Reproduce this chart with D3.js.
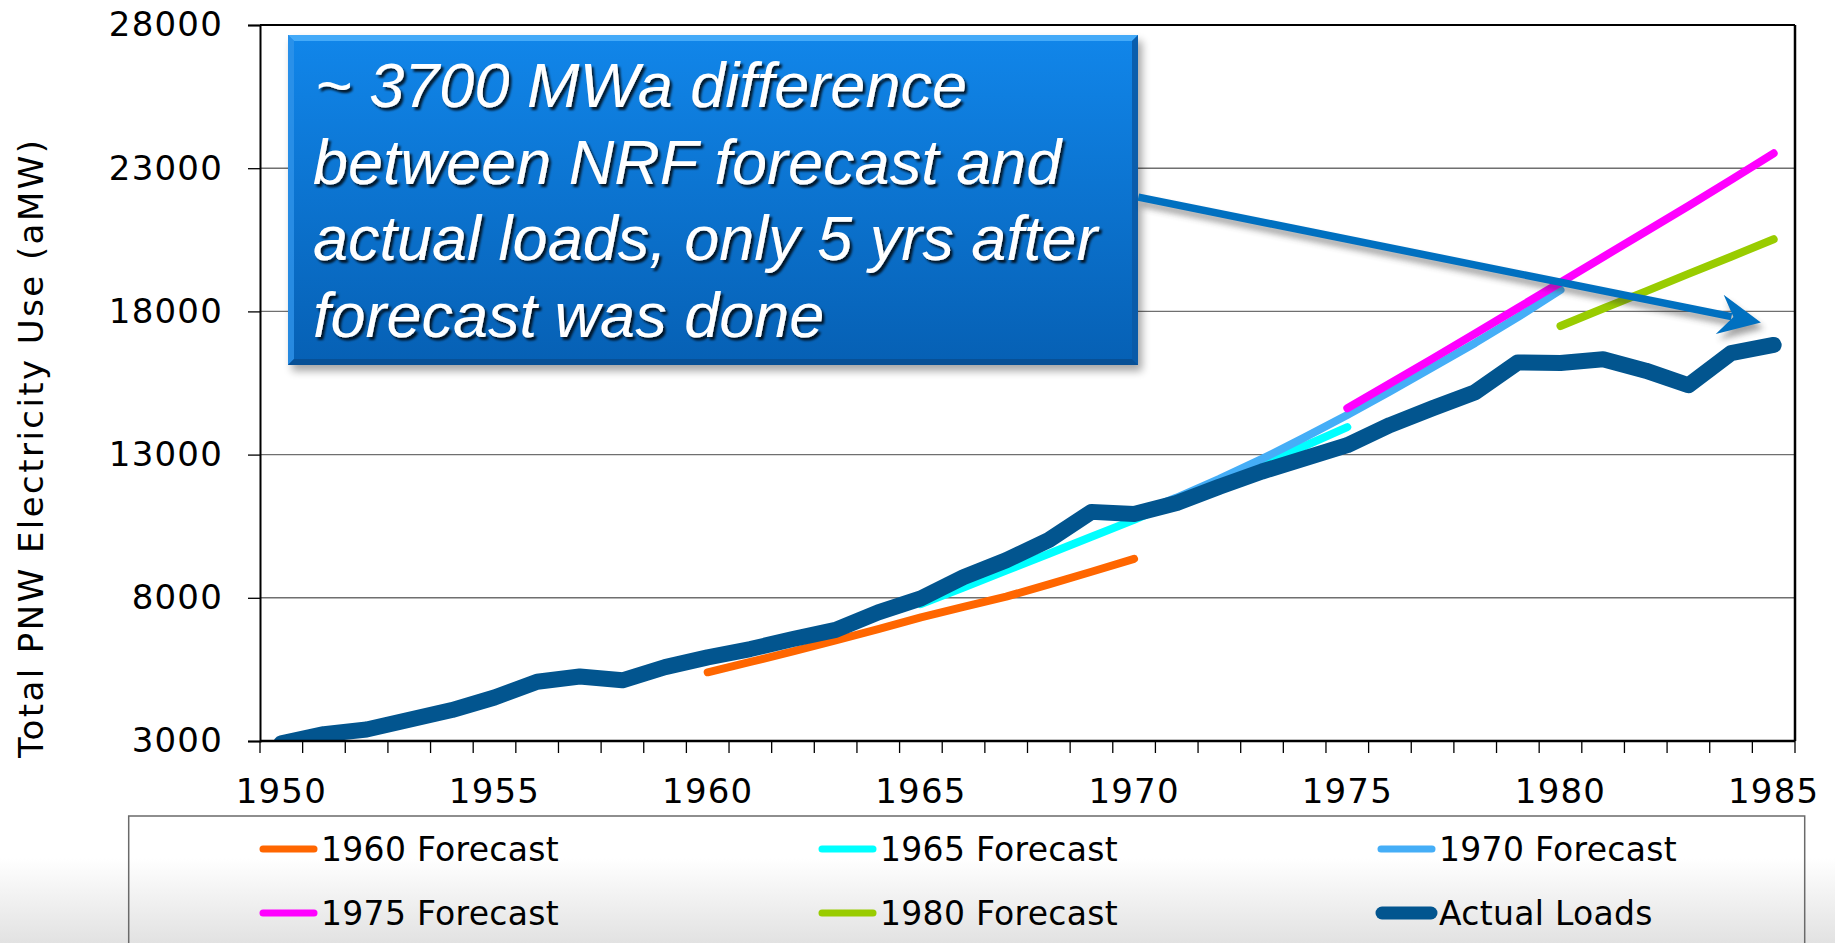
<!DOCTYPE html>
<html><head><meta charset="utf-8">
<script src="https://cdn.jsdelivr.net/npm/d3@7"></script>
<style>html,body{margin:0;padding:0;background:#fff;overflow:hidden}</style>
</head><body><svg id="c" width="1835" height="943"></svg>
<script>
// ---------- data ----------
const years = [1950,1951,1952,1953,1954,1955,1956,1957,1958,1959,1960,1961,1962,1963,1964,1965,1966,1967,1968,1969,1970,1971,1972,1973,1974,1975,1976,1977,1978,1979,1980,1981,1982,1983,1984,1985];
const actualLoads = [2920,3240,3400,3740,4080,4520,5070,5250,5120,5580,5920,6210,6560,6880,7490,7980,8720,9310,10020,11000,10930,11310,11880,12410,12870,13330,14030,14620,15180,16220,16200,16330,15930,15420,16540,16830];

const f1960Years = [1960,1961,1962,1963,1964,1965,1966,1967,1968,1969,1970];
const f1960 = [5400,5760,6130,6510,6910,7320,7680,8040,8470,8910,9360];
const f1965Years = [1965,1966,1967,1968,1969,1970,1971,1972,1973,1974,1975];
const f1965 = [7780,8360,8950,9540,10130,10720,11360,12000,12650,13300,13960];
const f1970Years = [1970,1971,1972,1973,1974,1975,1976,1977,1978,1979,1980];
const f1970 = [10900,11500,12150,12850,13600,14380,15200,16050,16900,17800,18750];
const f1975Years = [1975,1976,1977,1978,1979,1980,1981,1982,1983,1984,1985];
const f1975 = [14620,15480,16350,17230,18120,19010,19900,20790,21680,22590,23520];
const f1980Years = [1980,1981,1982,1983,1984,1985];
const f1980 = [17490,18100,18700,19310,19910,20520];

const seriesNames = ['1960 Forecast','1965 Forecast','1970 Forecast','1975 Forecast','1980 Forecast','Actual Loads'];
const seriesColors = ['#FF6600','#00FFFF','#45AEF7','#FF00FF','#99CC00','#02558F'];

const yTickValues = [3000,8000,13000,18000,23000,28000];
const xLabelYears = [1950,1955,1960,1965,1970,1975,1980,1985];

const calloutLines = ['~ 3700 MWa difference','between NRF forecast and','actual loads, only 5 yrs after','forecast was done'];
const yAxisTitle = 'Total PNW Electricity Use (aMW)';
// arrow annotation in data space
const arrowFrom = {year:1970.1, value:21990};
const arrowTo = {year:1984.7, value:17610};

// ---------- layout ----------
(function(){
const svg = d3.select('#c');
const FONT = '"DejaVu Sans", Verdana, sans-serif';
const pL = 260, pR = 1795, pT = 25, pB = 741;

const x = d3.scaleBand().domain(years).range([pL,pR]).padding(0);
const bw = x.bandwidth();
const xc = yr => x(yr) + bw/2;
const xf = yr => x(years[0]) + bw/2 + (yr - years[0]) * bw;
const y = d3.scaleLinear().domain([3000,28000]).range([pB,pT]);

const defs = svg.append('defs');
const bg = defs.append('linearGradient').attr('id','pageGrad').attr('x1',0).attr('y1',0).attr('x2',0).attr('y2',1);
bg.append('stop').attr('offset','0%').attr('stop-color','#ffffff');
bg.append('stop').attr('offset','100%').attr('stop-color','#e2e2e2');
svg.append('rect').attr('x',0).attr('y',858).attr('width',1835).attr('height',85).attr('fill','url(#pageGrad)');

defs.append('clipPath').attr('id','plotClip').append('rect')
  .attr('x',pL).attr('y',pT).attr('width',pR-pL).attr('height',pB-pT);

svg.append('rect').attr('x',pL).attr('y',pT).attr('width',pR-pL).attr('height',pB-pT).attr('fill','#fff');

// gridlines
svg.append('g').selectAll('line').data(yTickValues.filter(v=>v>3000 && v<28000)).join('line')
  .attr('x1',pL).attr('x2',pR).attr('y1',d=>y(d)).attr('y2',d=>y(d))
  .attr('stroke','#6f6f6f').attr('stroke-width',1.4);

// y axis
const yAxis = svg.append('g').attr('transform',`translate(${pL},0)`)
  .call(d3.axisLeft(y).tickValues(yTickValues).tickSize(12).tickPadding(25).tickFormat(d3.format('d')));
yAxis.select('.domain').attr('stroke','#000').attr('stroke-width',2);
yAxis.selectAll('.tick line').attr('stroke','#000').attr('stroke-width',1.3);
yAxis.selectAll('text').attr('font-family',FONT).attr('font-size',34).attr('letter-spacing',1.2).attr('fill','#000');

// x axis labels
const xAxis = svg.append('g').attr('transform',`translate(0,${pB})`)
  .call(d3.axisBottom(x).tickValues(xLabelYears).tickSize(0).tickPadding(38));
xAxis.select('.domain').remove();
xAxis.selectAll('text').attr('font-family',FONT).attr('font-size',34).attr('letter-spacing',1.2).attr('fill','#000');
svg.append('g').selectAll('line').data([...years.map(d=>x(d)), x.range()[1]]).join('line')
  .attr('x1',d=>d).attr('x2',d=>d).attr('y1',pB).attr('y2',pB+12)
  .attr('stroke','#000').attr('stroke-width',1.3);

// plot frame
svg.append('line').attr('x1',pL).attr('x2',pR).attr('y1',pT).attr('y2',pT).attr('stroke','#000').attr('stroke-width',2);
svg.append('line').attr('x1',pR).attr('x2',pR).attr('y1',pT).attr('y2',pB).attr('stroke','#000').attr('stroke-width',2.5);

// series
const seriesData = [
  {yrs:f1960Years, vals:f1960},
  {yrs:f1965Years, vals:f1965},
  {yrs:f1970Years, vals:f1970},
  {yrs:f1975Years, vals:f1975},
  {yrs:f1980Years, vals:f1980},
  {yrs:years, vals:actualLoads}
].map((s,i)=>({name:seriesNames[i], color:seriesColors[i], width: i===5?16:8,
  pts: s.yrs.map((yr,j)=>({yr, v:s.vals[j]}))}));

const line = d3.line().x(d=>xc(d.yr)).y(d=>y(d.v));
svg.append('g').attr('clip-path','url(#plotClip)').selectAll('path').data(seriesData).join('path')
  .attr('d',d=>line(d.pts)).attr('fill','none').attr('stroke',d=>d.color)
  .attr('stroke-width',d=>d.width).attr('stroke-linejoin','round').attr('stroke-linecap','round');

svg.append('line').attr('x1',pL).attr('x2',pR).attr('y1',pB).attr('y2',pB).attr('stroke','#000').attr('stroke-width',2.5);

// y axis title
svg.append('text').attr('transform',`translate(43,449) rotate(-90)`)
  .attr('text-anchor','middle').attr('font-family',FONT).attr('font-size',34)
  .attr('textLength',618).attr('lengthAdjust','spacing').attr('fill','#000').text(yAxisTitle);

// legend
svg.append('rect').attr('x',128.7).attr('y',816).attr('width',1676).attr('height',200)
  .attr('fill','none').attr('stroke','#6a6a6a').attr('stroke-width',1.5);
const legCols = [260,819,1378], legRows = [849,913];
const leg = svg.append('g').selectAll('g').data(seriesData).join('g')
  .attr('transform',(d,i)=>`translate(${legCols[i%3]},${legRows[Math.floor(i/3)]})`);
leg.append('line').attr('x1',d=>d.width>8?4:3).attr('x2',d=>d.width>8?53:54).attr('y1',0).attr('y2',0)
  .attr('stroke',d=>d.color).attr('stroke-width',d=>d.width>8?13:7).attr('stroke-linecap','round');
leg.append('text').attr('x',61).attr('y',12).attr('font-family',FONT).attr('font-size',33).attr('letter-spacing',0.3).attr('fill','#000').text(d=>d.name);

// ---------- callout box ----------
const boxG = defs.append('linearGradient').attr('id','boxGrad').attr('x1',0).attr('y1',0).attr('x2',0).attr('y2',1);
boxG.append('stop').attr('offset','0%').attr('stop-color','#1186ea');
boxG.append('stop').attr('offset','100%').attr('stop-color','#0660b4');
const sh = defs.append('filter').attr('id','boxShadow').attr('x','-10%').attr('y','-10%').attr('width','130%').attr('height','130%');
sh.append('feGaussianBlur').attr('stdDeviation',4);
const ts = defs.append('filter').attr('id','txtShadow').attr('x','-5%').attr('y','-20%').attr('width','115%').attr('height','150%');
ts.append('feDropShadow').attr('dx',2.5).attr('dy',3).attr('stdDeviation',1.2).attr('flood-color','#000').attr('flood-opacity',0.8);
const as = defs.append('filter').attr('id','arrShadow').attr('x','-10%').attr('y','-50%').attr('width','120%').attr('height','200%');
as.append('feGaussianBlur').attr('stdDeviation',3);

const bx = 288, by = 35, bwid = 850, bh = 330;
svg.append('rect').attr('x',bx+4).attr('y',by+6).attr('width',bwid).attr('height',bh).attr('fill','#000').attr('opacity',0.35).attr('filter','url(#boxShadow)');
svg.append('rect').attr('x',bx).attr('y',by).attr('width',bwid).attr('height',bh).attr('fill','url(#boxGrad)');
svg.append('polygon').attr('points',`${bx},${by} ${bx+bwid},${by} ${bx+bwid-6},${by+6} ${bx+6},${by+6}`).attr('fill','#4eb0fa').attr('opacity',0.85);
svg.append('polygon').attr('points',`${bx},${by} ${bx+6},${by+6} ${bx+6},${by+bh-6} ${bx},${by+bh}`).attr('fill','#2f94ea').attr('opacity',0.8);
svg.append('polygon').attr('points',`${bx+bwid},${by} ${bx+bwid},${by+bh} ${bx+bwid-6},${by+bh-6} ${bx+bwid-6},${by+6}`).attr('fill','#0a5aa6').attr('opacity',0.9);
svg.append('polygon').attr('points',`${bx},${by+bh} ${bx+bwid},${by+bh} ${bx+bwid-6},${by+bh-6} ${bx+6},${by+bh-6}`).attr('fill','#084f92').attr('opacity',0.9);

svg.append('g').attr('filter','url(#txtShadow)').selectAll('text').data(calloutLines).join('text')
  .attr('x',(d,i)=>i===0?315:313).attr('y',(d,i)=>107+i*76.5)
  .attr('font-family','"Liberation Sans", Arial, sans-serif').attr('font-style','italic')
  .attr('font-size',63).attr('fill','#fff').text(d=>d);

// ---------- arrow ----------
const ax0 = xf(arrowFrom.year), ay0 = y(arrowFrom.value);
const ax1 = xf(arrowTo.year), ay1 = y(arrowTo.value);
const len = Math.hypot(ax1-ax0, ay1-ay0);
const ux = (ax1-ax0)/len, uy = (ay1-ay0)/len, nx = -uy, ny = ux;
const headL = 42, headW = 20, notch = 28;
const headPts = [
  [ax1, ay1],
  [ax1 - headL*ux + headW*nx, ay1 - headL*uy + headW*ny],
  [ax1 - notch*ux, ay1 - notch*uy],
  [ax1 - headL*ux - headW*nx, ay1 - headL*uy - headW*ny]
];
const arrowG = svg.append('g');
const shadowG = arrowG.append('g').attr('transform','translate(3,6)').attr('filter','url(#arrShadow)').attr('opacity',0.45);
[shadowG, arrowG.append('g')].forEach((g,k)=>{
  const col = k===0 ? '#333' : '#0070C0';
  g.append('line').attr('x1',ax0).attr('y1',ay0).attr('x2',ax1-(notch+2)*ux).attr('y2',ay1-(notch+2)*uy)
    .attr('stroke',col).attr('stroke-width',7.5);
  g.append('polygon').attr('points',headPts.map(p=>p.join(',')).join(' ')).attr('fill',col);
});
})();
</script></body></html>
